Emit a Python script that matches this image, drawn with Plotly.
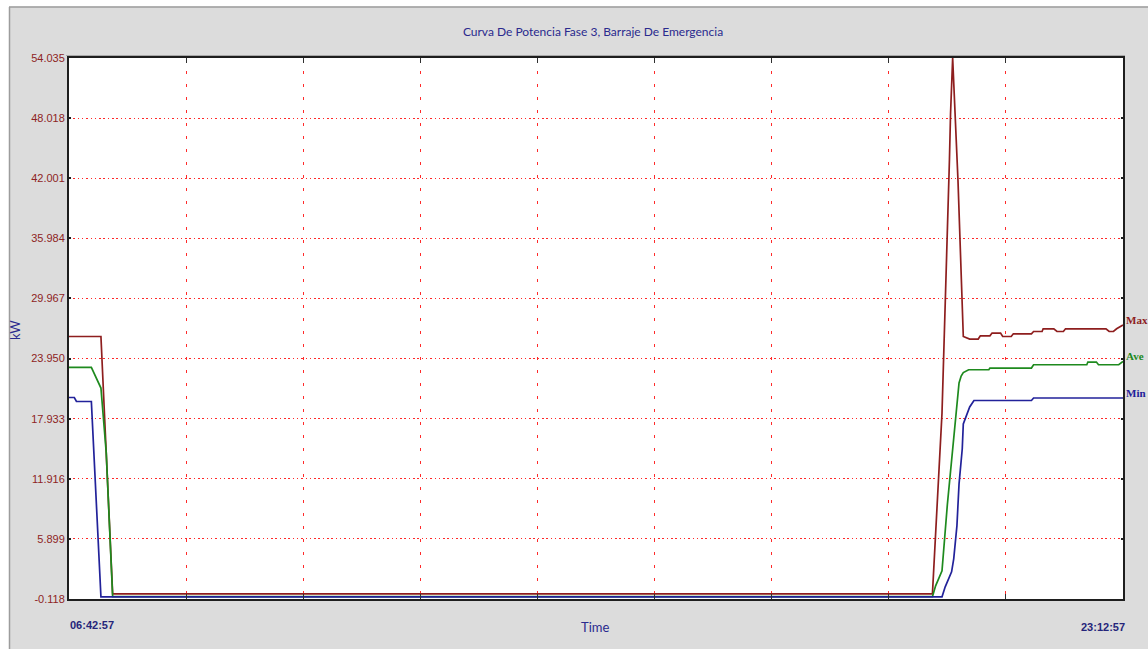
import pandas as pd
import plotly.graph_objects as go

DAY = "2024-01-01 "
T_START = "06:42:57"
T_END = "23:12:57"

# Y axis scale of the recorder
Y_TICKS = [-0.118, 5.899, 11.916, 17.933, 23.950, 29.967, 35.984, 42.001, 48.018, 54.035]

# Phase 3 power, emergency busbar (kW)
MAX_T = ["06:42:57", "07:12:57", "07:23:57", "20:13:57", "20:14:57", "20:15:57", "20:17:57",
         "20:19:57", "20:21:57", "20:22:57", "20:24:57", "20:25:57", "20:27:57", "20:28:57",
         "20:29:57", "20:30:57", "20:31:57", "20:32:57", "20:37:57", "20:41:57", "20:42:57",
         "20:48:57", "20:56:57", "20:58:57", "21:07:57", "21:09:57", "21:17:57", "21:19:57",
         "21:27:57", "21:29:57", "21:46:57", "21:48:57", "21:56:57", "21:57:57", "22:07:57",
         "22:10:57", "22:16:57", "22:18:57", "22:56:57", "22:59:57", "23:03:57", "23:06:57",
         "23:12:57"]
MAX_V = [26.16, 26.16, 0.40, 0.40, 2.4, 4.5, 9.0,
         13.1, 16.1, 18.5, 25.8, 29.2, 35.8, 38.9,
         43.9, 48.4, 51.9, 54.035, 41.8, 29.0, 26.16,
         25.90, 25.90, 26.23, 26.23, 26.50, 26.50, 26.16,
         26.16, 26.43, 26.43, 26.66, 26.66, 26.93, 26.93,
         26.66, 26.66, 26.93, 26.93, 26.66, 26.66, 26.93,
         27.30]

AVE_T = ["06:42:57", "07:03:57", "07:12:57", "07:17:57", "07:23:57", "20:13:57", "20:16:57",
         "20:22:57", "20:27:57", "20:32:57", "20:35:57", "20:38:57", "20:40:57", "20:42:57",
         "20:47:57", "21:06:57", "21:07:57", "21:46:57", "21:48:57", "22:38:57", "22:39:57",
         "22:47:57", "22:49:57", "23:08:57", "23:12:57"]
AVE_V = [23.06, 23.06, 21.0, 14.5, 0.12, 0.12, 1.2,
         2.7, 9.3, 14.8, 18.3, 21.5, 22.2, 22.55,
         22.83, 22.83, 23.0, 23.0, 23.33, 23.33, 23.6,
         23.6, 23.33, 23.33, 23.66]

MIN_T = ["06:42:57", "06:47:57", "06:49:57", "07:03:57", "07:12:57", "20:22:57", "20:25:57",
         "20:31:57", "20:33:57", "20:36:57", "20:38:57", "20:41:57", "20:42:57", "20:44:57",
         "20:48:57", "20:52:57", "21:46:57", "21:48:57", "23:12:57"]
MIN_V = [20.05, 20.05, 19.65, 19.65, 0.10, 0.10, 1.1,
         2.6, 3.9, 7.2, 11.4, 14.9, 17.4, 18.0,
         19.1, 19.75, 19.75, 20.0, 20.0]

SERIES = [
    ("Max", MAX_T, MAX_V, "#8E1E1E"),
    ("Ave", AVE_T, AVE_V, "#1E8A1E"),
    ("Min", MIN_T, MIN_V, "#22229A"),
]

# page geometry (pixels)
WIDTH, HEIGHT = 1148, 649
L, R, T, B = 69, 25, 58, 50
PW, PH = WIDTH - L - R, HEIGHT - T - B


def px_x(px):
    return (px - L) / PW


def px_y(py):
    return (HEIGHT - B - py) / PH


def stamp(t):
    return pd.Timestamp(DAY + t)


fig = go.Figure()
for name, ts, vs, color in SERIES:
    fig.add_trace(go.Scatter(
        x=[stamp(t) for t in ts], y=vs, mode="lines", name=name,
        line=dict(color=color, width=1.7), showlegend=False,
    ))
    # series tag at the right end of each curve
    fig.add_annotation(
        x=stamp(ts[-1]), y=vs[-1], xref="x", yref="y", text=name,
        showarrow=False, xanchor="left", yanchor="middle", xshift=1, yshift=5,
        font=dict(family="Liberation Serif, serif", size=11, color=color, weight="bold"),
    )

SANS = "Liberation Sans, Arial, sans-serif"
TITLE_FONT = "Lato, Liberation Sans, sans-serif"
BLUE = "#2A2A8E"
NAVY = "#25257A"

fig.update_layout(
    width=WIDTH, height=HEIGHT,
    margin=dict(l=L, r=R, t=T, b=B, pad=0),
    paper_bgcolor="#DCDCDC",
    plot_bgcolor="#FFFFFF",
    title=dict(
        text="Curva De Potencia Fase 3, Barraje De Emergencia",
        x=593 / WIDTH, xanchor="center", xref="container",
        y=1 - 32 / HEIGHT, yanchor="middle", yref="container",
        font=dict(family=TITLE_FONT, size=12, color=BLUE),
    ),
    xaxis=dict(
        type="date",
        range=[stamp(T_START), stamp(T_END)],
        tickmode="linear", tick0=stamp(T_START), dtick=110 * 60 * 1000,
        showticklabels=False,
        ticks="inside", ticklen=5, tickcolor="#303030", tickwidth=1,
        showgrid=True, gridcolor="#FF2A2A", gridwidth=1, griddash="3px,10px",
        showline=True, linecolor="#1E1E1E", linewidth=2, mirror="ticks",
        zeroline=False,
    ),
    yaxis=dict(
        range=[Y_TICKS[0], Y_TICKS[-1]],
        tickmode="array", tickvals=Y_TICKS, ticktext=[f"{v:.3f}" for v in Y_TICKS],
        tickfont=dict(family=SANS, size=11, color="#8E2424"),
        ticks="inside", ticklen=2, tickcolor="#202020", tickwidth=2,
        showgrid=True, gridcolor="#FF2A2A", gridwidth=1, griddash="1.5px,2.8px",
        showline=True, linecolor="#1E1E1E", linewidth=2, mirror="ticks",
        zeroline=False,
    ),
)

# white page edge and panel bevel
fig.add_shape(type="rect", xref="paper", yref="paper",
              x0=px_x(-2), x1=px_x(WIDTH + 2), y0=px_y(6.5), y1=px_y(-2),
              fillcolor="#FFFFFF", line=dict(width=0), layer="above")
fig.add_shape(type="rect", xref="paper", yref="paper",
              x0=px_x(-2), x1=px_x(9), y0=px_y(HEIGHT + 2), y1=px_y(-2),
              fillcolor="#FFFFFF", line=dict(width=0), layer="above")
fig.add_shape(type="line", xref="paper", yref="paper",
              x0=px_x(9), x1=px_x(WIDTH + 2), y0=px_y(7), y1=px_y(7),
              line=dict(color="#9C9C9C", width=1.5))
fig.add_shape(type="line", xref="paper", yref="paper",
              x0=px_x(9.5), x1=px_x(9.5), y0=px_y(7), y1=px_y(HEIGHT + 2),
              line=dict(color="#9C9C9C", width=1.5))
fig.add_shape(type="line", xref="paper", yref="paper",
              x0=px_x(66), x1=px_x(1125), y0=px_y(55.5), y1=px_y(55.5),
              line=dict(color="#A8A8A8", width=1))

# axis captions
fig.add_annotation(x=px_x(15), y=px_y(330), xref="paper", yref="paper", text="kW",
                   textangle=-90, showarrow=False, xanchor="center", yanchor="middle",
                   font=dict(family=TITLE_FONT, size=13, color=BLUE))
fig.add_annotation(x=px_x(595), y=px_y(627), xref="paper", yref="paper",
                   text="Time", showarrow=False, xanchor="center", yanchor="middle",
                   font=dict(family=TITLE_FONT, size=13, color=BLUE))
fig.add_annotation(x=px_x(68), y=px_y(625), xref="paper", yref="paper", text=T_START,
                   showarrow=False, xanchor="left", yanchor="middle",
                   font=dict(family=SANS, size=11, color=NAVY, weight="bold"))
fig.add_annotation(x=px_x(1127), y=px_y(627), xref="paper", yref="paper", text=T_END,
                   showarrow=False, xanchor="right", yanchor="middle",
                   font=dict(family=SANS, size=11, color=NAVY, weight="bold"))

fig.write_html("out.html")
